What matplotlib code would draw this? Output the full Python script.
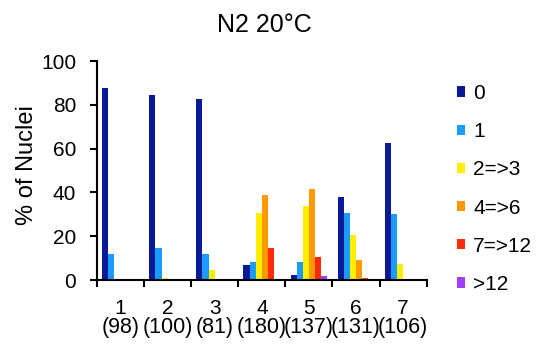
import numpy as np
import matplotlib
matplotlib.use('Agg')
import matplotlib.pyplot as plt
from matplotlib.transforms import blended_transform_factory

plt.rcParams['font.family'] = ['Liberation Sans', 'DejaVu Sans']

stages = ['1', '2', '3', '4', '5', '6', '7']
counts = ['(98)', '(100)', '(81)', '(180)', '(137)', '(131)', '(106)']
classes = ['0', '1', '2=>3', '4=>6', '7=>12', '>12']
colors = ['#0a1a96', '#1a9cff', '#ffee00', '#ff9900', '#ff2a0a', '#a040ff']

# % of nuclei per class, one list per class across the 7 stages
pct_0 = [87.7, 84.4, 82.8, 6.8, 2.4, 37.8, 62.5]
pct_1 = [11.7, 14.7, 11.7, 8.2, 8.2, 30.7, 30.0]
pct_2_3 = [0, 1.0, 4.7, 30.7, 33.6, 20.4, 7.4]
pct_4_6 = [0, 0, 0, 38.6, 41.6, 9.0, 0]
pct_7_12 = [0, 0, 0, 14.7, 10.3, 1.0, 0]
pct_12 = [0, 0, 0, 0, 1.7, 0, 0]
series = [pct_0, pct_1, pct_2_3, pct_4_6, pct_7_12, pct_12]

fig = plt.figure(figsize=(5.37, 3.48), dpi=100)
ax = fig.add_axes([0.1806, 0.1954, 0.614, 0.6293])

x = np.arange(len(stages))
w = 0.13
for i, (vals, col, lab) in enumerate(zip(series, colors, classes)):
    ax.bar(x + (i - 2.5) * w, vals, w, color=col, label=lab, linewidth=0)

ax.set_xlim(-0.5, 6.5)
ax.set_ylim(0, 100)
ax.set_yticks(range(0, 101, 20))
ax.tick_params(axis='y', labelsize=15, direction='out', length=5, width=1.5, pad=10)
ax.set_xticks(x)
ax.set_xticklabels([])
ax.tick_params(axis='x', which='major', length=0)
ax.set_xticks(np.arange(-0.5, 7, 1), minor=True)
ax.tick_params(axis='x', which='minor', direction='out', length=5, width=1.5)
for s in ['top', 'right']:
    ax.spines[s].set_visible(False)
for s in ['left', 'bottom']:
    ax.spines[s].set_linewidth(1.5)

trans = blended_transform_factory(ax.transData, fig.transFigure)
for xi, st, c in zip(x, stages, counts):
    ax.text(xi, 1 - 309 / 348, st, transform=trans, ha='center', va='center', fontsize=15)
    ax.text(xi, 1 - 328 / 348, c, transform=trans, ha='center', va='center', fontsize=15.5)

ax.set_ylabel('% of Nuclei', fontsize=17)
ax.yaxis.set_label_coords(38 / 537, 1 - 165 / 348, transform=fig.transFigure)
fig.text(264 / 537, 1 - 25 / 348, 'N2 20°C', ha='center', va='center', fontsize=18)

ax.legend(loc='upper left', bbox_to_anchor=(457 / 537, 1 - 84 / 348),
          bbox_transform=fig.transFigure, frameon=False, fontsize=15,
          handlelength=0.38, handleheight=0.38, handletextpad=0.4,
          labelspacing=0.92, borderpad=0, borderaxespad=0)

fig.savefig('out.png', dpi=100)
